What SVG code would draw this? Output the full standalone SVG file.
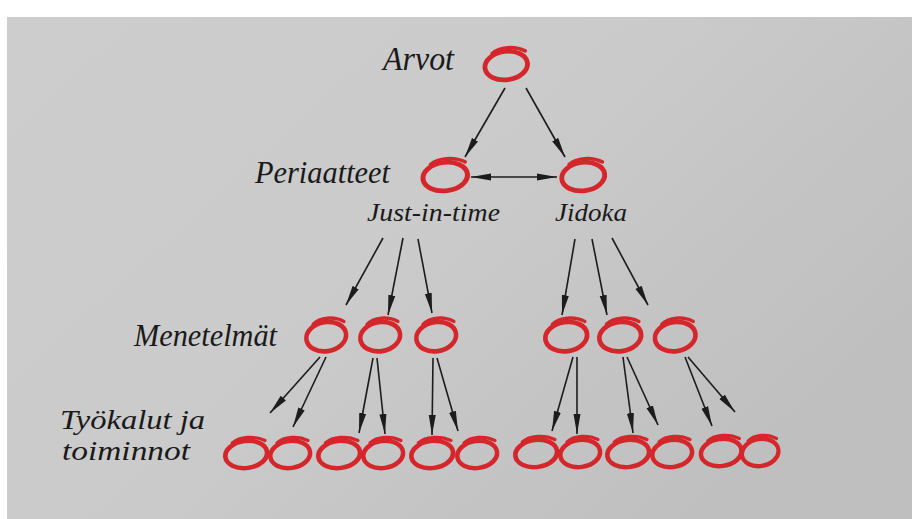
<svg xmlns="http://www.w3.org/2000/svg" xmlns:xlink="http://www.w3.org/1999/xlink" width="912" height="519" viewBox="0 0 912 519">
<defs>
<linearGradient id="paper" x1="0" y1="0" x2="1" y2="0.6">
<stop offset="0" stop-color="#cdcdcd"/>
<stop offset="0.5" stop-color="#cbcbcb"/>
<stop offset="1" stop-color="#bfbfbf"/>
</linearGradient>
<marker id="ah" viewBox="0 0 20 8" refX="20" refY="4" markerWidth="20" markerHeight="8" markerUnits="userSpaceOnUse" orient="auto-start-reverse">
<path d="M0,0.5 L20,4 L0,7.5 Z" fill="#1c1c1c"/>
</marker>
<g id="ring">
<ellipse cx="0" cy="1.5" rx="20" ry="13.5" transform="rotate(-8)"/>
<path d="M -13 -10 C -6 -16.5, 8 -17.5, 18 -12.5" stroke-width="3.2"/>
</g>
</defs>
<style>
.ring { fill: none; stroke: #d4262b; stroke-width: 4.5; stroke-linecap: round; }
.lbl { font-family: "Liberation Serif", "DejaVu Serif", serif; font-style: italic; fill: #1a1a1a; }
.edge { stroke: #1c1c1c; stroke-width: 1.6; fill: none; marker-end: url(#ah); }
</style>
<rect x="0" y="0" width="912" height="519" fill="#ffffff"/>
<rect x="7" y="17" width="905" height="502" fill="url(#paper)"/>

<g id="labels">
<text class="lbl" x="383" y="70" font-size="34" textLength="71" lengthAdjust="spacingAndGlyphs">Arvot</text>
<text class="lbl" x="255" y="183" font-size="32" textLength="135" lengthAdjust="spacingAndGlyphs">Periaatteet</text>
<text class="lbl" x="367" y="221" font-size="25" textLength="133" lengthAdjust="spacingAndGlyphs">Just-in-time</text>
<text class="lbl" x="555" y="221" font-size="25" textLength="72" lengthAdjust="spacingAndGlyphs">Jidoka</text>
<text class="lbl" x="134" y="346" font-size="32" textLength="143" lengthAdjust="spacingAndGlyphs">Menetelmät</text>
<text class="lbl" x="60" y="429" font-size="27" textLength="145" lengthAdjust="spacingAndGlyphs">Työkalut ja</text>
<text class="lbl" x="62" y="460" font-size="27" textLength="128" lengthAdjust="spacingAndGlyphs">toiminnot</text>
</g>

<g id="connectors">
<line class="edge" x1="505" y1="88" x2="465" y2="157"/>
<line class="edge" x1="526" y1="88" x2="565" y2="157"/>
<line class="edge" x1="471" y1="177" x2="557" y2="177" marker-start="url(#ah)"/>
<line class="edge" x1="383" y1="238" x2="346" y2="305"/>
<line class="edge" x1="403" y1="238" x2="388" y2="315"/>
<line class="edge" x1="418" y1="239" x2="432" y2="313"/>
<line class="edge" x1="575" y1="239" x2="562" y2="315"/>
<line class="edge" x1="592" y1="239" x2="607" y2="315"/>
<line class="edge" x1="612" y1="238" x2="648" y2="305"/>
<line class="edge" x1="320" y1="357" x2="270" y2="413"/>
<line class="edge" x1="326" y1="357" x2="293" y2="427"/>
<line class="edge" x1="373" y1="358" x2="359" y2="433"/>
<line class="edge" x1="377" y1="358" x2="385" y2="434"/>
<line class="edge" x1="433" y1="358" x2="432" y2="435"/>
<line class="edge" x1="437" y1="358" x2="458" y2="431"/>
<line class="edge" x1="573" y1="357" x2="552" y2="431"/>
<line class="edge" x1="577" y1="357" x2="577" y2="434"/>
<line class="edge" x1="623" y1="357" x2="633" y2="433"/>
<line class="edge" x1="627" y1="357" x2="658" y2="425"/>
<line class="edge" x1="685" y1="357" x2="712" y2="426"/>
<line class="edge" x1="688" y1="357" x2="735" y2="412"/>
</g>

<g id="arvot"><use xlink:href="#ring" class="ring" transform="translate(506,64) scale(1.07,1.05)"/></g>
<g id="periaate-jit"><use xlink:href="#ring" class="ring" transform="translate(445,175) scale(1.12,1.05)"/></g>
<g id="periaate-jidoka"><use xlink:href="#ring" class="ring" transform="translate(583,175) scale(1.08,1.05)"/></g>

<g id="menetelma-1"><use xlink:href="#ring" class="ring" transform="translate(326,335) scale(1.0,1.08)"/></g>
<g id="menetelma-2"><use xlink:href="#ring" class="ring" transform="translate(380,335) scale(1.0,1.08)"/></g>
<g id="menetelma-3"><use xlink:href="#ring" class="ring" transform="translate(436,335) scale(1.0,1.08)"/></g>
<g id="menetelma-4"><use xlink:href="#ring" class="ring" transform="translate(566,335) scale(1.05,1.08)"/></g>
<g id="menetelma-5"><use xlink:href="#ring" class="ring" transform="translate(620,335) scale(1.05,1.08)"/></g>
<g id="menetelma-6"><use xlink:href="#ring" class="ring" transform="translate(675,335) scale(1.02,1.08)"/></g>

<g id="tyokalu-1"><use xlink:href="#ring" class="ring" transform="translate(246,453) scale(1.05,1.0)"/></g>
<g id="tyokalu-2"><use xlink:href="#ring" class="ring" transform="translate(290,453) scale(1.0,1.0)"/></g>
<g id="tyokalu-3"><use xlink:href="#ring" class="ring" transform="translate(339,453) scale(1.05,1.0)"/></g>
<g id="tyokalu-4"><use xlink:href="#ring" class="ring" transform="translate(383,453) scale(1.0,1.0)"/></g>
<g id="tyokalu-5"><use xlink:href="#ring" class="ring" transform="translate(432,453) scale(1.05,1.0)"/></g>
<g id="tyokalu-6"><use xlink:href="#ring" class="ring" transform="translate(477,453) scale(1.0,1.0)"/></g>
<g id="tyokalu-7"><use xlink:href="#ring" class="ring" transform="translate(536,452) scale(1.05,1.0)"/></g>
<g id="tyokalu-8"><use xlink:href="#ring" class="ring" transform="translate(580,452) scale(1.0,1.0)"/></g>
<g id="tyokalu-9"><use xlink:href="#ring" class="ring" transform="translate(628,452) scale(1.05,1.0)"/></g>
<g id="tyokalu-10"><use xlink:href="#ring" class="ring" transform="translate(672,452) scale(1.0,1.0)"/></g>
<g id="tyokalu-11"><use xlink:href="#ring" class="ring" transform="translate(721,451) scale(1.02,1.0)"/></g>
<g id="tyokalu-12"><use xlink:href="#ring" class="ring" transform="translate(760,451) scale(0.92,1.0)"/></g>
</svg>
